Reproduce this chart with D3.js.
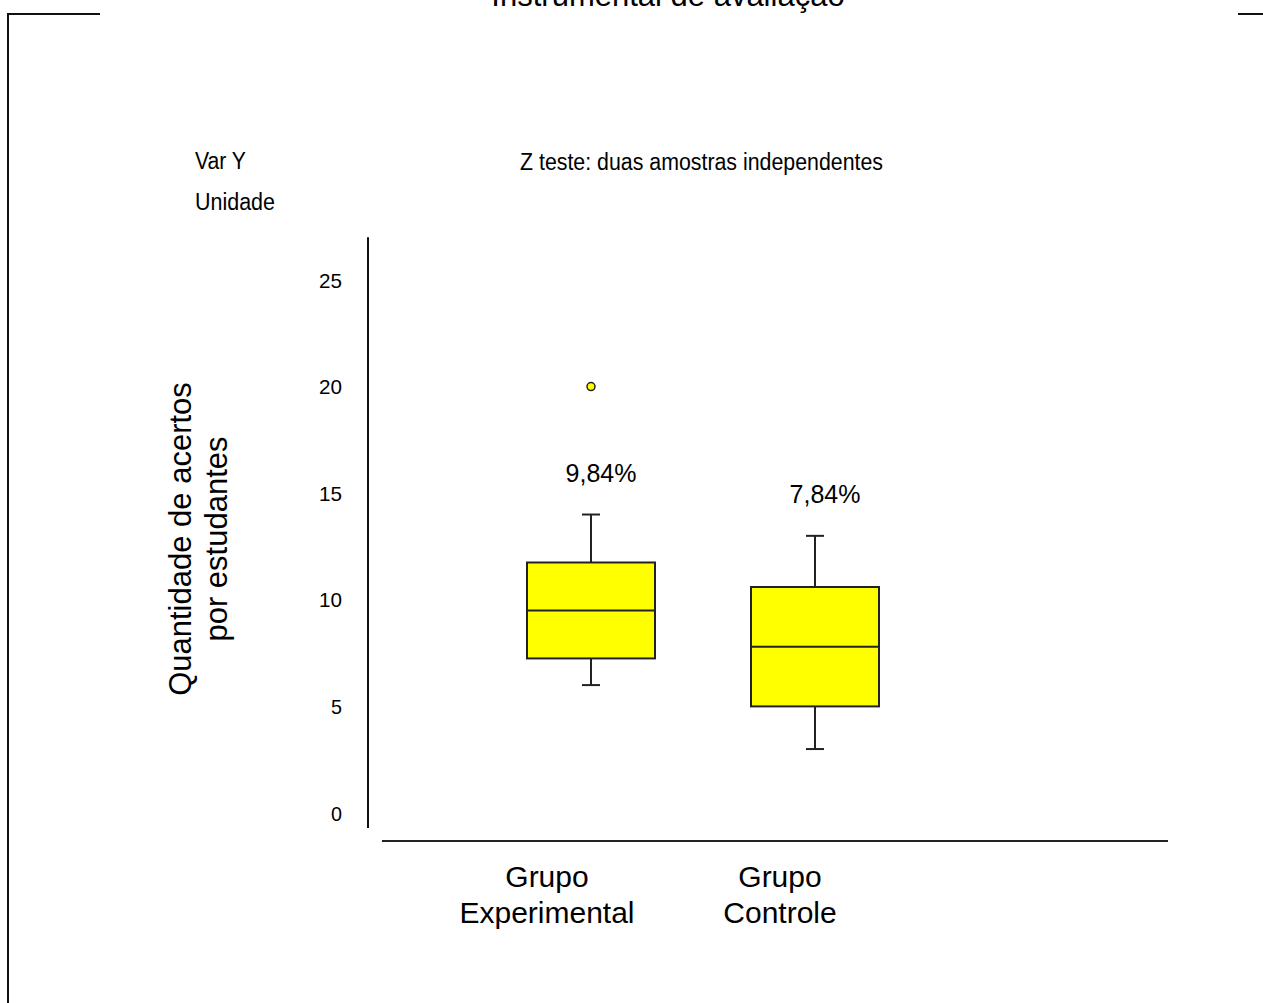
<!DOCTYPE html>
<html>
<head>
<meta charset="utf-8">
<script src="https://cdn.jsdelivr.net/npm/d3@7"></script>
<style>
  body { margin: 0; background: #fff; }
  text { font-family: "Liberation Sans", Arial, sans-serif; fill: #000; }
</style>
</head>
<body>
<div id="chart"></div>
<script>
"use strict";

const WIDTH = 1263, HEIGHT = 1003;

// data
var groups = ["Grupo Experimental", "Grupo Controle"];
var groupLines = [["Grupo", "Experimental"], ["Grupo", "Controle"]];
var whiskerLow = [6, 3];
var q1 = [7.25, 5];
var median = [9.5, 7.8];
var q3 = [11.75, 10.6];
var whiskerHigh = [14, 13];
var outliers = [[20], []];
var pctLabels = ["9,84%", "7,84%"];
var yTicks = [0, 5, 10, 15, 20, 25];

var svg = d3.select("#chart").append("svg")
  .attr("width", WIDTH)
  .attr("height", HEIGHT);

var yScale = d3.scaleLinear()
  .domain([0, 25])
  .range([813, 280]);
var xScale = d3.scalePoint()
  .domain(groups)
  .range([591, 815]);
// category names sit a little left of their boxes
var labelScale = d3.scalePoint()
  .domain(groups)
  .range([547, 780]);

var boxW = 128, capW = 18;

// frame bits
svg.append("path")
  .attr("d", "M8,1003 V14 H100 M1238,14 H1263")
  .attr("stroke", "#111")
  .attr("stroke-width", 2)
  .attr("fill", "none");

// cut-off title (cut in the original too)
svg.append("text")
  .attr("x", 668).attr("y", 6)
  .attr("text-anchor", "middle")
  .style("font-size", "31px")
  .text("Instrumental de avaliação");

// small header texts (narrow bitmap-like font)
function narrow(x, y, str, len) {
  svg.append("text")
    .attr("x", x).attr("y", y)
    .attr("textLength", len)
    .attr("lengthAdjust", "spacingAndGlyphs")
    .style("font-size", "23px")
    .text(str);
}
narrow(195, 169, "Var Y", 51);
narrow(195, 210, "Unidade", 80);
narrow(520, 170, "Z teste: duas amostras independentes", 363);

// y axis
svg.append("line")
  .attr("x1", 368).attr("x2", 368)
  .attr("y1", yScale(27)).attr("y2", yScale(-0.7))
  .attr("stroke", "#111").attr("stroke-width", 2);

svg.selectAll(".ytick")
  .data(yTicks)
  .enter().append("text")
  .attr("class", "ytick")
  .attr("x", 342)
  .attr("y", function(d) { return yScale(d); })
  .attr("dy", "0.36em")
  .attr("text-anchor", "end")
  .attr("textLength", function(d) { return d < 10 ? 11 : 23; })
  .attr("lengthAdjust", "spacingAndGlyphs")
  .style("font-size", "21px")
  .text(function(d) { return d; });

// x axis
svg.append("line")
  .attr("x1", 382).attr("x2", 1168)
  .attr("y1", 841).attr("y2", 841)
  .attr("stroke", "#222").attr("stroke-width", 2);

// y title
var yt = svg.append("text")
  .attr("transform", "translate(0,539) rotate(-90)")
  .attr("text-anchor", "middle")
  .style("font-size", "31px");
yt.append("tspan").attr("x", 0).attr("y", 191).text("Quantidade de acertos");
yt.append("tspan").attr("x", 0).attr("y", 227).text("por estudantes");

// boxes
var g = svg.selectAll(".box")
  .data(groups)
  .enter().append("g")
  .attr("class", "box");

g.append("line")
  .attr("x1", function(d) { return xScale(d); })
  .attr("x2", function(d) { return xScale(d); })
  .attr("y1", function(d, i) { return yScale(whiskerHigh[i]); })
  .attr("y2", function(d, i) { return yScale(whiskerLow[i]); })
  .attr("stroke", "#222").attr("stroke-width", 2);

[whiskerHigh, whiskerLow].forEach(function(arr) {
  g.append("line")
    .attr("x1", function(d) { return xScale(d) - capW / 2; })
    .attr("x2", function(d) { return xScale(d) + capW / 2; })
    .attr("y1", function(d, i) { return yScale(arr[i]); })
    .attr("y2", function(d, i) { return yScale(arr[i]); })
    .attr("stroke", "#222").attr("stroke-width", 2);
});

g.append("rect")
  .attr("x", function(d) { return xScale(d) - boxW / 2; })
  .attr("width", boxW)
  .attr("y", function(d, i) { return yScale(q3[i]); })
  .attr("height", function(d, i) { return yScale(q1[i]) - yScale(q3[i]); })
  .attr("fill", "#ffff00")
  .attr("stroke", "#222").attr("stroke-width", 2);

g.append("line")
  .attr("x1", function(d) { return xScale(d) - boxW / 2; })
  .attr("x2", function(d) { return xScale(d) + boxW / 2; })
  .attr("y1", function(d, i) { return yScale(median[i]); })
  .attr("y2", function(d, i) { return yScale(median[i]); })
  .attr("stroke", "#222").attr("stroke-width", 2);

g.each(function(d, i) {
  d3.select(this).selectAll("circle")
    .data(outliers[i])
    .enter().append("circle")
    .attr("cx", xScale(d))
    .attr("cy", function(v) { return yScale(v); })
    .attr("r", 4)
    .attr("fill", "#ffff00")
    .attr("stroke", "#222").attr("stroke-width", 1.5);
});

g.append("text")
  .attr("x", function(d) { return xScale(d) + 10; })
  .attr("y", function(d, i) { return yScale(whiskerHigh[i]) - 33; })
  .attr("text-anchor", "middle")
  .style("font-size", "25px")
  .text(function(d, i) { return pctLabels[i]; });

// category labels
var cl = g.append("text")
  .attr("text-anchor", "middle")
  .style("font-size", "30px");
cl.append("tspan")
  .attr("x", function(d) { return labelScale(d); })
  .attr("y", 887)
  .text(function(d, i) { return groupLines[i][0]; });
cl.append("tspan")
  .attr("x", function(d) { return labelScale(d); })
  .attr("y", 923)
  .text(function(d, i) { return groupLines[i][1]; });
</script>
</body>
</html>
